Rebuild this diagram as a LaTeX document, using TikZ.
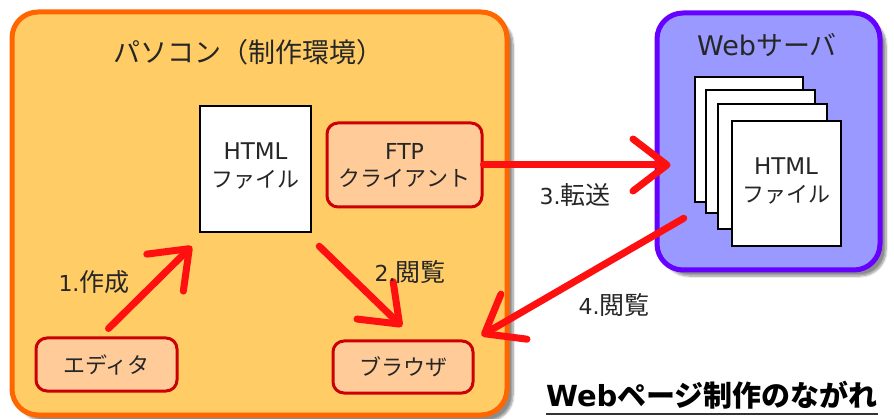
\documentclass[tikz,border=0pt]{standalone}
\usepackage{fontspec}
\setmainfont{Noto Sans CJK JP}
\newfontfamily\lat{DejaVu Sans}
\usetikzlibrary{arrows.meta,shadows.blur,calc}
\definecolor{pcfill}{HTML}{FFCC66}
\definecolor{pcline}{HTML}{FF6600}
\definecolor{svfill}{HTML}{9999FF}
\definecolor{svline}{HTML}{6600FF}
\definecolor{apfill}{HTML}{FFCC99}
\definecolor{apline}{HTML}{CC0000}
\definecolor{arr}{HTML}{FF1010}
\definecolor{txt}{HTML}{262626}
\tikzset{
  bigbox/.style={rounded corners=26pt, line width=5pt, inner sep=0pt,
    blur shadow={shadow xshift=6pt, shadow yshift=-6pt, shadow blur steps=8, shadow opacity=45}},
  appbox/.style={draw=apline, fill=apfill, line width=3pt, rounded corners=11pt,
    font=\fontsize{22}{27}\selectfont, text=txt, inner sep=0pt, align=center},
  page/.style={draw=black, fill=white, line width=2.5pt, inner sep=0pt},
  flow/.style={draw=arr, line width=7pt, line cap=round,
    -{Straight Barb[length=34pt,width=52pt,round]}},
  lbl/.style={font=\fontsize{25}{28}\selectfont, text=txt, inner sep=0pt},
  ptxt/.style={font=\fontsize{22}{28}\selectfont, text=txt, align=center, inner sep=0pt},
  ttl/.style={font=\fontsize{27}{30}\selectfont, text=txt, inner sep=0pt}
}
\begin{document}
\begin{tikzpicture}[x=1pt,y=-1pt]
\useasboundingbox (0,0) rectangle (894,419);
% PC box
\node[bigbox, draw=pcline, fill=pcfill, minimum width=495pt, minimum height=403pt] (pc) at (259.5,213.5) {};
\node[ttl] (pctitle) at (248,52) {パソコン（制作環境）};
% Server box
\node[bigbox, draw=svline, fill=svfill, minimum width=223pt, minimum height=257pt] (server) at (768.5,141.5) {};
\node[ttl] (svtitle) at (767,45) {{\lat Web}サーバ};
% HTML file (PC)
\node[page, minimum width=111pt, minimum height=126pt] (html) at (255.5,169) {};
\node[ptxt] (htmltxt) at (255.5,166) {{\lat\fontsize{23}{28}\selectfont HTML}\\ファイル};
% Apps
\node[appbox, minimum width=155pt, minimum height=84pt] (ftp) at (404.5,165) {{\lat\fontsize{22}{27}\selectfont FTP}\\クライアント};
\node[appbox, minimum width=141pt, minimum height=53pt] (editor) at (106.5,364.5) {エディタ};
\node[appbox, minimum width=140pt, minimum height=52pt] (browser) at (403,367) {ブラウザ};
% Server pages
\node[page, minimum width=108pt, minimum height=125pt] (pg1) at (749,139.5) {};
\node[page, minimum width=109pt, minimum height=123pt] (pg2) at (760.5,151.5) {};
\node[page, minimum width=109pt, minimum height=125pt] (pg3) at (772.5,166.5) {};
\node[page, minimum width=109pt, minimum height=125pt] (pg4) at (786.5,183.5) {};
\node[ptxt] (pg4txt) at (786,181) {{\lat\fontsize{23}{28}\selectfont HTML}\\ファイル};
% Arrows
\draw[flow] ([shift={(2,-8)}]editor.north) -- ([shift={(-7,13)}]html.south west);
\draw[flow] ([shift={(7,13)}]html.south east) -- ([shift={(-1,-13)}]browser.north);
\draw[flow] (ftp.east) -- ([xshift=16]ftp.east -| server.west);
\draw[flow] ([shift={(-47,-29)}]pg4.south west) -- ([shift={(7,-4)}]browser.north east);
% Labels
\node[lbl] (l1) at (94,282) {{\lat\fontsize{22}{28}\selectfont 1.}作成};
\node[lbl] (l2) at (410,272) {{\lat\fontsize{22}{28}\selectfont 2.}閲覧};
\node[lbl] (l3) at (575,195) {{\lat\fontsize{22}{28}\selectfont 3.}転送};
\node[lbl] (l4) at (614,305) {{\lat\fontsize{22}{28}\selectfont 4.}閲覧};
% Caption
\node[font=\fontsize{29}{32}\selectfont\bfseries, text=black, inner sep=0pt] (cap) at (712,395) {{\lat\bfseries Web}ページ制作のながれ};
\draw[line width=1.3pt, black!80] (cap.south west |- 0,414) -- (cap.south east |- 0,414);
\end{tikzpicture}
\end{document}
